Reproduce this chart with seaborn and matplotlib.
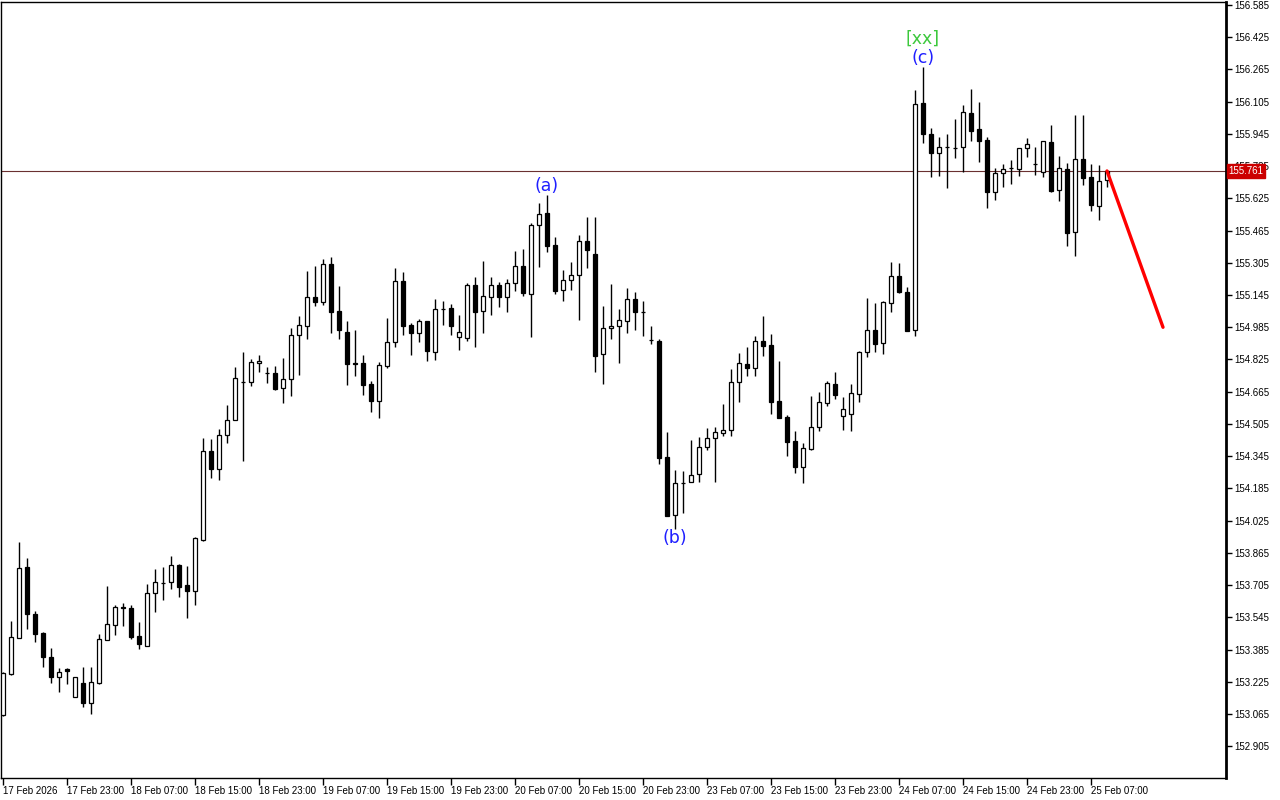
import matplotlib
matplotlib.use("Agg")
import matplotlib.pyplot as plt
import seaborn as sns
import numpy as np

# hourly candles, 17 Feb 15:00 .. 25 Feb 08:00
opens = [153.060, 153.263, 153.444, 153.793, 153.560, 153.466, 153.346, 153.247, 153.287, 153.148,
         153.217, 153.121, 153.217, 153.431, 153.508, 153.595, 153.590, 153.451, 153.404, 153.664,
         153.717, 153.719, 153.805, 153.705, 153.677, 153.929, 154.371, 154.280, 154.450, 154.525,
         154.715, 154.715, 154.806, 154.760, 154.756, 154.682, 154.727, 154.948, 154.990, 155.134,
         155.112, 155.298, 155.066, 154.962, 154.806, 154.806, 154.702, 154.620, 154.791, 154.910,
         155.215, 154.995, 154.958, 155.016, 154.864, 155.077, 155.081, 154.935, 154.930, 155.193,
         155.067, 155.134, 155.193, 155.137, 155.203, 155.288, 155.152, 155.491, 155.551, 155.392,
         155.172, 155.218, 155.246, 155.412, 155.347, 154.851, 154.980, 154.990, 155.015, 155.125,
         155.062, 154.922, 154.917, 154.341, 154.051, 154.212, 154.215, 154.255, 154.389, 154.434,
         154.459, 154.473, 154.712, 154.801, 154.781, 154.915, 154.896, 154.619, 154.540, 154.420,
         154.293, 154.381, 154.491, 154.610, 154.702, 154.544, 154.553, 154.655, 154.861, 154.970,
         154.905, 155.107, 155.238, 155.159, 154.971, 156.097, 155.943, 155.849, 155.880, 155.877,
         155.879, 156.047, 155.970, 155.913, 155.655, 155.750, 155.775, 155.772, 155.874, 155.798,
         155.754, 155.905, 155.665, 155.769, 155.457, 155.819, 155.730, 155.589, 155.716]
highs = [153.275, 153.528, 153.917, 153.838, 153.576, 153.472, 153.393, 153.295, 153.295, 153.247,
         153.300, 153.300, 153.461, 153.700, 153.606, 153.617, 153.606, 153.522, 153.710, 153.783,
         153.795, 153.849, 153.810, 153.800, 153.945, 154.434, 154.429, 154.480, 154.599, 154.786,
         154.864, 154.827, 154.847, 154.789, 154.793, 154.834, 154.980, 155.041, 155.264, 155.289,
         155.323, 155.332, 155.190, 155.016, 154.971, 154.847, 154.718, 154.814, 155.030, 155.278,
         155.258, 155.005, 155.025, 155.016, 155.125, 155.115, 155.101, 155.046, 155.203, 155.233,
         155.314, 155.233, 155.208, 155.223, 155.364, 155.372, 155.501, 155.601, 155.642, 155.432,
         155.269, 155.308, 155.442, 155.531, 155.531, 155.091, 155.200, 155.074, 155.180, 155.159,
         155.114, 154.991, 154.925, 154.465, 154.276, 154.271, 154.425, 154.440, 154.485, 154.491,
         154.604, 154.778, 154.859, 154.889, 154.942, 155.041, 154.953, 154.818, 154.549, 154.470,
         154.412, 154.645, 154.664, 154.718, 154.761, 154.639, 154.703, 154.866, 155.129, 155.107,
         155.114, 155.309, 155.303, 155.184, 156.163, 156.279, 155.973, 155.928, 155.945, 156.019,
         156.089, 156.167, 156.102, 155.928, 155.774, 155.794, 155.816, 155.874, 155.923, 155.880,
         155.908, 155.989, 155.835, 155.799, 156.039, 156.039, 155.796, 155.791, 155.766]
lows = [153.055, 153.258, 153.441, 153.488, 153.424, 153.297, 153.220, 153.176, 153.214, 153.148,
        153.098, 153.063, 153.215, 153.431, 153.457, 153.502, 153.437, 153.386, 153.404, 153.570,
        153.631, 153.686, 153.647, 153.543, 153.606, 153.924, 154.235, 154.227, 154.409, 154.525,
        154.323, 154.693, 154.764, 154.710, 154.674, 154.610, 154.645, 154.748, 154.925, 155.092,
        155.095, 154.958, 154.927, 154.698, 154.743, 154.649, 154.566, 154.533, 154.784, 154.889,
        154.948, 154.849, 154.913, 154.819, 154.824, 154.998, 154.948, 154.874, 154.918, 154.889,
        154.958, 155.047, 155.087, 155.062, 155.167, 155.142, 154.938, 155.286, 155.360, 155.152,
        155.117, 155.172, 155.023, 155.281, 154.764, 154.705, 154.928, 154.809, 154.955, 154.973,
        154.943, 154.900, 154.308, 154.049, 153.982, 154.064, 154.215, 154.215, 154.377, 154.218,
        154.447, 154.447, 154.616, 154.745, 154.745, 154.842, 154.556, 154.536, 154.347, 154.263,
        154.213, 154.376, 154.470, 154.596, 154.629, 154.475, 154.470, 154.614, 154.839, 154.864,
        154.852, 155.062, 155.157, 154.968, 154.942, 155.898, 155.730, 155.738, 155.675, 155.827,
        155.757, 155.911, 155.807, 155.576, 155.617, 155.683, 155.698, 155.738, 155.832, 155.743,
        155.733, 155.658, 155.613, 155.390, 155.340, 155.691, 155.564, 155.519, 155.683]
closes = [153.270, 153.446, 153.788, 153.560, 153.461, 153.346, 153.247, 153.275, 153.280, 153.247,
          153.121, 153.222, 153.437, 153.510, 153.595, 153.593, 153.449, 153.414, 153.664, 153.719,
          153.715, 153.805, 153.697, 153.677, 153.937, 154.371, 154.280, 154.450, 154.525, 154.732,
          154.713, 154.811, 154.818, 154.758, 154.680, 154.728, 154.947, 154.995, 155.134, 155.112,
          155.298, 155.062, 154.970, 154.804, 154.804, 154.700, 154.620, 154.796, 154.910, 155.213,
          154.993, 154.958, 155.015, 154.869, 155.074, 155.075, 154.993, 154.960, 155.193, 155.062,
          155.139, 155.193, 155.137, 155.203, 155.288, 155.157, 155.491, 155.546, 155.390, 155.167,
          155.220, 155.243, 155.412, 155.367, 154.844, 154.980, 154.990, 155.020, 155.125, 155.059,
          155.060, 154.920, 154.337, 154.049, 154.210, 154.210, 154.250, 154.391, 154.434, 154.465,
          154.473, 154.712, 154.806, 154.781, 154.915, 154.891, 154.616, 154.536, 154.417, 154.293,
          154.384, 154.488, 154.612, 154.707, 154.649, 154.578, 154.657, 154.862, 154.970, 154.903,
          155.110, 155.238, 155.159, 154.968, 156.092, 155.943, 155.849, 155.882, 155.878, 155.875,
          156.052, 155.960, 155.908, 155.655, 155.750, 155.769, 155.774, 155.874, 155.894, 155.796,
          155.908, 155.663, 155.774, 155.455, 155.819, 155.728, 155.594, 155.710, 155.761]

time_labels = ["17 Feb 2026", "17 Feb 23:00", "18 Feb 07:00", "18 Feb 15:00", "18 Feb 23:00",
               "19 Feb 07:00", "19 Feb 15:00", "19 Feb 23:00", "20 Feb 07:00", "20 Feb 15:00",
               "20 Feb 23:00", "23 Feb 07:00", "23 Feb 15:00", "23 Feb 23:00", "24 Feb 07:00",
               "24 Feb 15:00", "24 Feb 23:00", "25 Feb 07:00"]
price_ticks = [156.585, 156.425, 156.265, 156.105, 155.945, 155.785, 155.625, 155.465, 155.305,
               155.145, 154.985, 154.825, 154.665, 154.505, 154.345, 154.185, 154.025, 153.865,
               153.705, 153.545, 153.385, 153.225, 153.065, 152.905]
last_price = 155.761

# wave labels: text, candle, above the high or below the low
wave_text = ["(a)", "(b)", "(c)", "[xx]"]
wave_bar = [68, 84, 115, 115]
wave_above = [True, False, True, True]
wave_color = ["#1f1fff", "#1f1fff", "#1f1fff", "#3cc83c"]
wave_offset = [6.5, 6.5, 6.5, 20]

# projected move
forecast_x = [138, 145]
forecast_y = [155.761, 154.985]

sns.set_theme(style="white")
plt.rcParams["font.family"] = ["Liberation Sans", "DejaVu Sans"]

o = np.array(opens)
h = np.array(highs)
l = np.array(lows)
c = np.array(closes)
x = np.arange(len(o))
up = c >= o

fig = plt.figure(figsize=(12.8, 8), dpi=100)
ax = fig.add_axes([1 / 1280, 22 / 800, 1225 / 1280, 776 / 800])

ax.vlines(x, l, h, color="black", lw=1, zorder=2)
body_bot = np.minimum(o, c)
body_h = np.maximum(np.abs(c - o), 0.0008)
ax.bar(x[up], body_h[up], bottom=body_bot[up], width=0.55,
       color="white", edgecolor="black", linewidth=0.9, zorder=3)
ax.bar(x[~up], body_h[~up], bottom=body_bot[~up], width=0.55,
       color="black", edgecolor="black", linewidth=0.9, zorder=3)

ax.axhline(last_price, color="#6a3030", lw=0.8, zorder=1)

sns.lineplot(x=forecast_x, y=forecast_y, color="#ff0000", lw=2.4, ax=ax, zorder=4)

for txt, b, above, col, off in zip(wave_text, wave_bar, wave_above, wave_color, wave_offset):
    y0 = h[b] if above else l[b]
    dy = off if above else -off
    ax.annotate(txt, (b, y0), xytext=(0, dy), textcoords="offset points",
                ha="center", va="center", color=col, fontsize=12.5,
                family="DejaVu Sans")

ax.set_xlim(-0.25, 152.875)
ax.set_ylim(152.747, 156.600)

ax.yaxis.tick_right()
ax.set_yticks(price_ticks)
ax.set_yticklabels([f"{v:.3f}" for v in price_ticks])
ax.set_xticks(np.arange(0, 8 * len(time_labels), 8))
ax.set_xticklabels(time_labels)
for lab in ax.get_xticklabels():
    lab.set_ha("left")
ax.tick_params(axis="y", direction="out", length=4, width=1, pad=2,
               labelsize=7, colors="black", right=True, left=False)
ax.tick_params(axis="x", direction="out", length=5, width=1, pad=1,
               labelsize=7, colors="black", bottom=True)
ax.set_xlabel("")
ax.set_ylabel("")

for side in ["left", "top", "bottom"]:
    ax.spines[side].set_color("black")
    ax.spines[side].set_linewidth(1)
ax.spines["right"].set_color("black")
ax.spines["right"].set_linewidth(2)

ax.text(1.002, last_price, f"{last_price:.3f}", transform=ax.get_yaxis_transform(),
        color="white", fontsize=7, va="center", ha="left", zorder=10, clip_on=False,
        bbox=dict(boxstyle="square,pad=0.2", fc="#cc0000", ec="#cc0000"))

fig.savefig("out.png", dpi=100, facecolor="white")
